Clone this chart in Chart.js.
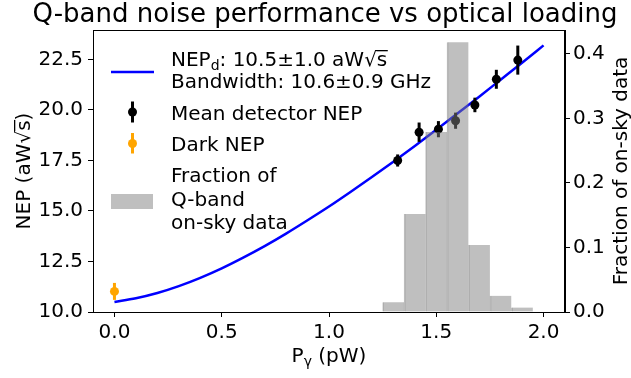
<!DOCTYPE html>
<html>
<head>
<meta charset="utf-8">
<script src="https://cdn.jsdelivr.net/npm/chart.js@4.4.1/dist/chart.umd.min.js"></script>
<style>
  body { margin: 0; background: #fff; }
  #wrap { width: 631px; height: 378px; }
</style>
</head>
<body>
<div id="wrap"><canvas id="nepChart" width="631" height="378"></canvas></div>
<script>
// model curve
const curveP = [0.0, 0.1, 0.2, 0.3, 0.4, 0.5, 0.6, 0.7, 0.8, 0.9, 1.0, 1.1, 1.2, 1.3, 1.4, 1.5, 1.6, 1.7, 1.8, 1.9, 2.0];
const curveNEP = [10.50, 10.68, 10.94, 11.28, 11.69, 12.16, 12.69, 13.26, 13.88, 14.54, 15.22, 15.94, 16.68, 17.44, 18.22, 19.02, 19.84, 20.66, 21.50, 22.34, 23.20];

// mean detector NEP points
const meanP = [1.32, 1.42, 1.51, 1.59, 1.68, 1.78, 1.88];
const meanNEP = [17.50, 18.90, 19.05, 19.47, 20.25, 21.52, 22.47];
const meanErr = [0.30, 0.48, 0.40, 0.40, 0.36, 0.47, 0.72];

// dark NEP
const darkP = [0.0];
const darkNEP = [11.02];
const darkErr = [0.42];

// histogram of on-sky loading
const histCenters = [1.3, 1.4, 1.5, 1.6, 1.7, 1.8, 1.9];
const histFrac = [0.015, 0.152, 0.279, 0.418, 0.104, 0.025, 0.007];

const FAM = "'DejaVu Sans', sans-serif";
Chart.defaults.font.family = FAM;
Chart.defaults.font.size = 20;
Chart.defaults.color = '#000';

function drawRich(ctx, parts, x, y) {
  parts.forEach(function (p) {
    ctx.font = p.size + 'px ' + FAM;
    const w = ctx.measureText(p.t).width;
    ctx.fillText(p.t, x, y + (p.dy || 0));
    if (p.over) {
      ctx.fillRect(x - 0.5, y - p.size * 0.80, w + 1, 1.3);
    }
    x += w;
  });
  return x;
}
function richWidth(ctx, parts) {
  let w = 0;
  parts.forEach(function (p) {
    ctx.font = p.size + 'px ' + FAM;
    w += ctx.measureText(p.t).width;
  });
  return w;
}

const errorBars = {
  id: 'errorBars',
  beforeDatasetDraw(chart, args) {
    const ds = chart.data.datasets[args.index];
    if (!ds.errors) return;
    const ctx = chart.ctx, xs = chart.scales.x, ys = chart.scales.y;
    ctx.save();
    ctx.strokeStyle = ds.backgroundColor;
    ctx.lineWidth = 3;
    ds.data.forEach(function (p, i) {
      const px = xs.getPixelForValue(p.x);
      ctx.beginPath();
      ctx.moveTo(px, ys.getPixelForValue(p.y - ds.errors[i]));
      ctx.lineTo(px, ys.getPixelForValue(p.y + ds.errors[i]));
      ctx.stroke();
    });
    ctx.restore();
  }
};

const decorations = {
  id: 'decorations',
  afterDraw(chart) {
    const ctx = chart.ctx, a = chart.chartArea;
    ctx.save();
    ctx.fillStyle = '#000';
    ctx.strokeStyle = '#000';
    ctx.textAlign = 'left';
    ctx.textBaseline = 'alphabetic';

    // frame
    ctx.lineWidth = 1;
    ctx.strokeRect(Math.round(a.left) + 0.5, Math.round(a.top) + 0.5, Math.round(a.right - a.left) - 1, Math.round(a.bottom - a.top));

    // title
    const cx = (a.left + a.right) / 2;
    ctx.font = '26px ' + FAM;
    ctx.textAlign = 'center';
    ctx.fillText('Q-band noise performance vs optical loading', cx - 4, 22);
    ctx.textAlign = 'left';

    // x axis title
    const xParts = [{t: 'P', size: 20}, {t: 'γ', size: 14, dy: 4}, {t: ' (pW)', size: 20}];
    drawRich(ctx, xParts, cx - richWidth(ctx, xParts) / 2, 362);

    // left axis title
    const yParts = [{t: 'NEP (aW', size: 20}, {t: '√', size: 20}, {t: 's', size: 20, over: true}, {t: ')', size: 20}];
    ctx.save();
    ctx.translate(30, (a.top + a.bottom) / 2);
    ctx.rotate(-Math.PI / 2);
    drawRich(ctx, yParts, -richWidth(ctx, yParts) / 2, 0);
    ctx.restore();

    // right axis title
    ctx.save();
    ctx.translate(627, (a.top + a.bottom) / 2);
    ctx.rotate(-Math.PI / 2);
    ctx.font = '20px ' + FAM;
    ctx.textAlign = 'center';
    ctx.fillText('Fraction of on-sky data', 0, 0);
    ctx.restore();

    // legend
    const tx = 171;
    ctx.strokeStyle = '#0000ff';
    ctx.lineWidth = 2.5;
    ctx.beginPath();
    ctx.moveTo(111, 72);
    ctx.lineTo(154, 72);
    ctx.stroke();
    drawRich(ctx, [{t: 'NEP', size: 20}, {t: 'd', size: 14, dy: 4}, {t: ': 10.5±1.0 aW', size: 20}, {t: '√', size: 20}, {t: 's', size: 20, over: true}], tx, 66);
    ctx.font = '20px ' + FAM;
    ctx.fillText('Bandwidth: 10.6±0.9 GHz', tx, 88);

    ctx.lineWidth = 3;
    ctx.strokeStyle = '#000';
    ctx.beginPath(); ctx.moveTo(132.5, 101.5); ctx.lineTo(132.5, 122.5); ctx.stroke();
    ctx.beginPath(); ctx.arc(132.5, 112, 4.5, 0, Math.PI * 2); ctx.fill();
    ctx.fillText('Mean detector NEP', tx, 120);

    ctx.strokeStyle = '#ffa500';
    ctx.fillStyle = '#ffa500';
    ctx.beginPath(); ctx.moveTo(132.5, 133); ctx.lineTo(132.5, 153.5); ctx.stroke();
    ctx.beginPath(); ctx.arc(132.5, 143.5, 4.5, 0, Math.PI * 2); ctx.fill();
    ctx.fillStyle = '#000';
    ctx.fillText('Dark NEP', tx, 151);

    ctx.fillStyle = 'rgba(128,128,128,0.5)';
    ctx.fillRect(111, 194, 42, 15);
    ctx.fillStyle = '#000';
    ctx.fillText('Fraction of', tx, 182);
    ctx.fillText('Q-band', tx, 206);
    ctx.fillText('on-sky data', tx, 229);
    ctx.restore();
  }
};

function tickGrid() {
  return {display: true, offset: false, drawOnChartArea: false, drawTicks: true, tickLength: 5, color: '#000', lineWidth: 1};
}

new Chart(document.getElementById('nepChart'), {
  type: 'scatter',
  data: {
    datasets: [
      {
        type: 'bar',
        label: 'Fraction of Q-band on-sky data',
        data: histCenters.map(function (c, i) { return {x: c, y: histFrac[i]}; }),
        yAxisID: 'y2',
        backgroundColor: 'rgba(128,128,128,0.5)',
        borderColor: 'rgba(90,90,90,0.35)',
        borderWidth: {left: 1, right: 0, top: 0, bottom: 0},
        borderSkipped: false,
        barPercentage: 1,
        categoryPercentage: 1,
        grouped: false,
        order: 0
      },
      {
        type: 'line',
        label: 'NEP model',
        data: curveP.map(function (p, i) { return {x: p, y: curveNEP[i]}; }),
        yAxisID: 'y',
        borderColor: '#0000ff',
        borderWidth: 2.5,
        pointRadius: 0,
        fill: false,
        cubicInterpolationMode: 'monotone',
        order: 3
      },
      {
        label: 'Mean detector NEP',
        data: meanP.map(function (p, i) { return {x: p, y: meanNEP[i]}; }),
        errors: meanErr,
        yAxisID: 'y',
        backgroundColor: '#000000',
        borderWidth: 0,
        pointRadius: 4.5,
        order: 2
      },
      {
        label: 'Dark NEP',
        data: darkP.map(function (p, i) { return {x: p, y: darkNEP[i]}; }),
        errors: darkErr,
        yAxisID: 'y',
        backgroundColor: '#ffa500',
        borderWidth: 0,
        pointRadius: 4.5,
        order: 1
      }
    ]
  },
  options: {
    responsive: false,
    animation: false,
    layout: {padding: {top: 30, left: 0, right: 0, bottom: 0}},
    plugins: {
      legend: {display: false},
      tooltip: {enabled: false}
    },
    scales: {
      x: {
        type: 'linear',
        min: -0.1,
        max: 2.1,
        offset: false,
        grid: tickGrid(),
        border: {display: true, color: '#000', width: 1},
        ticks: {stepSize: 0.5, includeBounds: false, padding: 4, maxRotation: 0,
                callback: function (v) { return v.toFixed(1); }},
        afterFit: function (s) { s.height = 66; }
      },
      y: {
        type: 'linear',
        position: 'left',
        min: 10,
        max: 23.96,
        grid: tickGrid(),
        border: {display: true, color: '#000', width: 1},
        ticks: {stepSize: 2.5, includeBounds: false, padding: 5,
                callback: function (v) { return v.toFixed(1); }},
        afterFit: function (s) { s.width = 93; }
      },
      y2: {
        type: 'linear',
        position: 'right',
        min: 0,
        max: 0.437,
        grid: tickGrid(),
        border: {display: true, color: '#000', width: 1},
        ticks: {stepSize: 0.1, includeBounds: false, padding: 3,
                callback: function (v) { return v.toFixed(1); }},
        afterFit: function (s) { s.width = 66; }
      }
    }
  },
  plugins: [errorBars, decorations]
});
</script>
</body>
</html>
